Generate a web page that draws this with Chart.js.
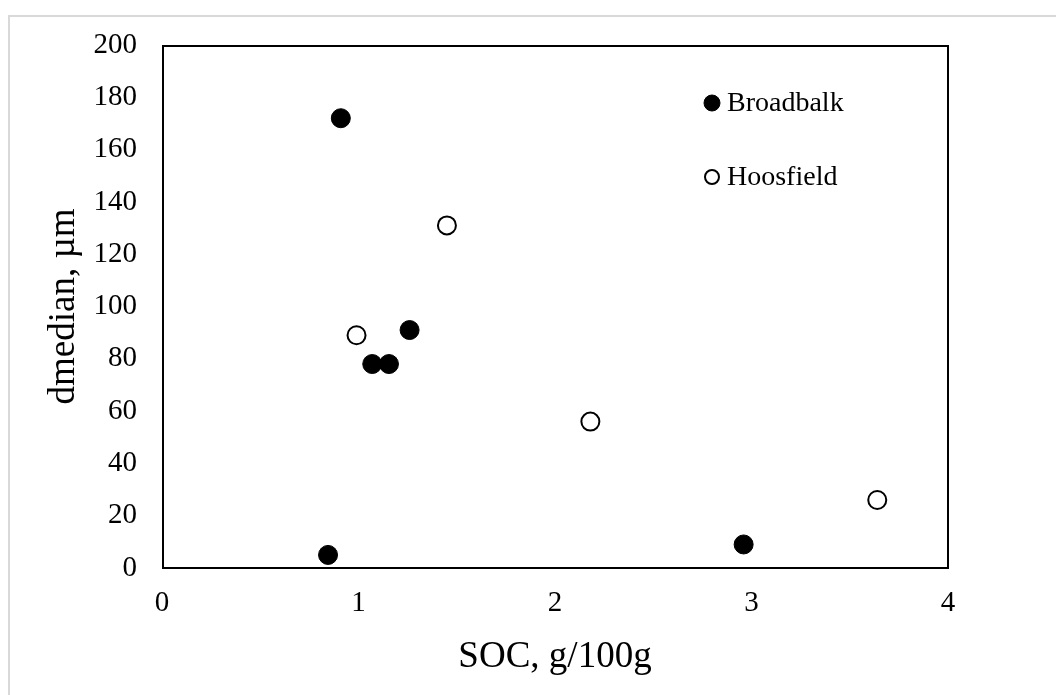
<!DOCTYPE html>
<html>
<head>
<meta charset="utf-8">
<script src="https://cdn.jsdelivr.net/npm/chart.js@4"></script>
<style>
  html, body { margin: 0; padding: 0; background: #fff; overflow: hidden; }
  #frame { position: absolute; left: 8px; top: 15px; width: 1200px; height: 800px; border: 2px solid #d9d9d9; }
  #wrap { position: absolute; left: 0; top: 0; width: 1056px; height: 695px; }
</style>
</head>
<body>
<div id="frame"></div>
<div id="wrap"><canvas id="chart" width="1056" height="695"></canvas></div>
<script>
// données
const broadbalkSoc = [0.91, 1.07, 1.155, 1.26, 0.845, 2.96];
const broadbalkDmedian = [172, 78, 78, 91, 5, 9];
const hoosfieldSoc = [0.99, 1.45, 2.18, 3.64];
const hoosfieldDmedian = [89, 131, 56, 26];

const xLabel = 'SOC, g/100g';
const yLabel = 'dmedian, µm';
const seriesNames = ['Broadbalk', 'Hoosfield'];

const serif = '"Liberation Serif", "Times New Roman", serif';

function toPoints(xs, ys) {
    return xs.map((x, i) => ({ x: x, y: ys[i] }));
}

// cadre noir autour de la zone de tracé
const frame = {
    id: 'frame',
    afterDraw(chart) {
        const { ctx, chartArea: a } = chart;
        ctx.save();
        ctx.strokeStyle = '#000';
        ctx.lineWidth = 2;
        ctx.strokeRect(a.left + 1, a.top + 1, a.right - a.left - 1, a.bottom - a.top - 1);
        ctx.restore();
    }
};

// légende à l'intérieur du graphique
const innerLegend = {
    id: 'innerLegend',
    afterDraw(chart) {
        const ctx = chart.ctx;
        const a = chart.chartArea;
        const x = a.left + 550;
        const rows = [a.top + 58, a.top + 132];
        ctx.save();
        chart.data.datasets.forEach((ds, i) => {
            const y = rows[i];
            ctx.beginPath();
            ctx.arc(x, y, i === 0 ? 8 : 7, 0, Math.PI * 2);
            ctx.fillStyle = ds.backgroundColor;
            ctx.fill();
            ctx.lineWidth = i === 0 ? 1 : 2;
            ctx.strokeStyle = '#000';
            ctx.stroke();
            ctx.fillStyle = '#000';
            ctx.font = '28px ' + serif;
            ctx.textBaseline = 'middle';
            ctx.textAlign = 'left';
            ctx.fillText(ds.label, x + 15, y + 1);
        });
        ctx.restore();
    }
};

new Chart(document.getElementById('chart').getContext('2d'), {
    type: 'scatter',
    data: {
        datasets: [
            {
                label: seriesNames[0],
                data: toPoints(broadbalkSoc, broadbalkDmedian),
                backgroundColor: '#000',
                borderColor: '#000',
                borderWidth: 1,
                pointRadius: 9.5,
                pointHoverRadius: 9.5
            },
            {
                label: seriesNames[1],
                data: toPoints(hoosfieldSoc, hoosfieldDmedian),
                backgroundColor: '#fff',
                borderColor: '#000',
                borderWidth: 2,
                pointRadius: 9,
                pointHoverRadius: 9
            }
        ]
    },
    options: {
        responsive: false,
        animation: false,
        devicePixelRatio: 1,
        layout: { padding: { top: 45, right: 108, left: 0, bottom: 0 } },
        plugins: {
            legend: { display: false },
            tooltip: { enabled: false }
        },
        scales: {
            x: {
                type: 'linear',
                min: 0,
                max: 4,
                afterFit: s => { s.height = 127; },
                grid: { display: false, drawTicks: false },
                border: { display: false },
                ticks: { stepSize: 1, color: '#000', padding: 18, font: { family: serif, size: 29 } },
                title: { display: true, text: xLabel, color: '#000', padding: { top: 0, bottom: 16 }, font: { family: serif, size: 37 } }
            },
            y: {
                min: 0,
                max: 200,
                afterFit: s => { s.width = 162; },
                grid: { display: false, drawTicks: false },
                border: { display: false },
                ticks: { stepSize: 20, color: '#000', padding: 25, font: { family: serif, size: 29 } },
                title: { display: true, text: yLabel, color: '#000', padding: { top: 42, bottom: 0 }, font: { family: serif, size: 37 } }
            }
        }
    },
    plugins: [frame, innerLegend]
});
</script>
</body>
</html>
